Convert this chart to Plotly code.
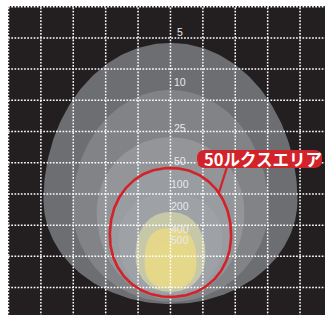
import numpy as np
import plotly.graph_objects as go

# ---- data (grid units: 1 square; depth measured downward from top grid line) ----
lux_levels = [5, 10, 25, 50, 100, 200, 400, 500]
top_depth = [1.16, 2.67, 4.18, 5.17, 5.97, 6.58, 7.09, 7.64]
widest_depth = [6.20, 6.42, 6.58, 7.32, 7.48, 7.96, 8.18, 8.28]
bottom_depth = [9.53, 9.46, 9.37, 9.30, 9.21, 9.14, 9.02, 8.89]
half_width = [3.92, 3.02, 2.28, 1.87, 1.60, 1.08, 0.80, 0.68]
label_depth = [0.81, 2.41, 3.89, 4.95, 5.68, 6.39, 7.13, 7.48]
x_ticks = [-5, -4, -3, -2, -1, 0, 1, 2, 3, 4]
y_ticks = [0, 1, 2, 3, 4, 5, 6, 7, 8, 9]
callout_text = "50ルクスエリア"
callout_level = 50

# ---- styles ----
fill_colors = ["#6d6e71", "#818387", "#939599", "#999ca1", "#9ea1a6",
               "#c7c8a8", "#e4d78c", "#e6d889"]
shape_exp = [2.0, 2.0, 2.0, 2.1, 2.2, 2.2, 2.6, 2.6]
RED = "#d2232a"
BG = "#231f20"


def contour(i, n=240):
    t = np.linspace(0, 2 * np.pi, n)
    c, s = np.cos(t), np.sin(t)
    e = 2.0 / shape_exp[i]
    x = half_width[i] * np.sign(c) * np.abs(c) ** e
    w, tp, bt = widest_depth[i], top_depth[i], bottom_depth[i]
    y = np.where(s > 0, w - (w - tp) * np.abs(s) ** e, w + (bt - w) * np.abs(s) ** e)
    return x, y


fig = go.Figure()
for i, lv in enumerate(lux_levels):
    x, y = contour(i)
    fig.add_trace(go.Scatter(x=x, y=y, mode="lines", fill="toself",
                             fillcolor=fill_colors[i], line=dict(width=0),
                             hoverinfo="skip", showlegend=False, name=f"{lv} lx"))

# grid on top of fills
gx, gy = [], []
for xv in x_ticks:
    gx += [xv, xv, None]
    gy += [-1, 11, None]
for yv in y_ticks:
    gx += [-6, 6, None]
    gy += [yv, yv, None]
fig.add_trace(go.Scatter(x=gx, y=gy, mode="lines",
                         line=dict(color="white", width=1.5, dash="1.7px,1.5px"),
                         hoverinfo="skip", showlegend=False))

# red 50 lux outline
ri = lux_levels.index(callout_level)
rx_, ry_ = contour(ri)
fig.add_trace(go.Scatter(x=rx_, y=ry_, mode="lines", line=dict(color=RED, width=2.6),
                         hoverinfo="skip", showlegend=False))

# callout box
x0, x1, y0, y1 = 0.82, 4.68, 4.59, 5.17
rx, ry = 0.25, 0.26
path = (f"M {x0+rx},{y0} L {x1-rx},{y0} Q {x1},{y0} {x1},{y0+ry} L {x1},{y1-ry} "
        f"Q {x1},{y1} {x1-rx},{y1} L {x0+rx},{y1} Q {x0},{y1} {x0},{y1-ry} "
        f"L {x0},{y0+ry} Q {x0},{y0} {x0+rx},{y0} Z")
fig.add_shape(type="path", path=path, fillcolor=RED, line=dict(width=0), layer="above")

# pointer from box to the 50 lux contour
pd_ = 5.97
w, tp, A, p = widest_depth[ri], top_depth[ri], half_width[ri], shape_exp[ri]
px = A * (1 - ((w - pd_) / (w - tp)) ** p) ** (1 / p)
fig.add_shape(type="line", x0=1.74, y0=y1 - 0.02, x1=px, y1=pd_,
              line=dict(color=RED, width=2.2), layer="above")

fig.add_annotation(x=2.86, y=(y0 + y1) / 2 + 0.01, text=callout_text, showarrow=False,
                   font=dict(family="Noto Sans CJK JP", size=16.5, color="white", weight="bold"),
                   xanchor="center", yanchor="middle")

for lv, d in zip(lux_levels, label_depth):
    fig.add_annotation(x=0.29, y=d, text=str(lv), showarrow=False,
                       font=dict(family="Liberation Sans, Arial", size=10.5, color="#e8e9ea"),
                       xanchor="center", yanchor="middle")

fig.update_layout(
    width=325, height=315,
    margin=dict(l=8, r=0, t=6, b=0),
    paper_bgcolor="white", plot_bgcolor=BG,
    xaxis=dict(range=[-5.015, 4.77], showgrid=False, zeroline=False, showticklabels=False,
               ticks="", fixedrange=True),
    yaxis=dict(range=[9.88, -0.022], showgrid=False, zeroline=False, showticklabels=False,
               ticks="", fixedrange=True),
    showlegend=False,
)
fig.write_html("out.html", config={"displayModeBar": False},
               post_script="document.body.style.margin='0';document.body.style.padding='0';")
